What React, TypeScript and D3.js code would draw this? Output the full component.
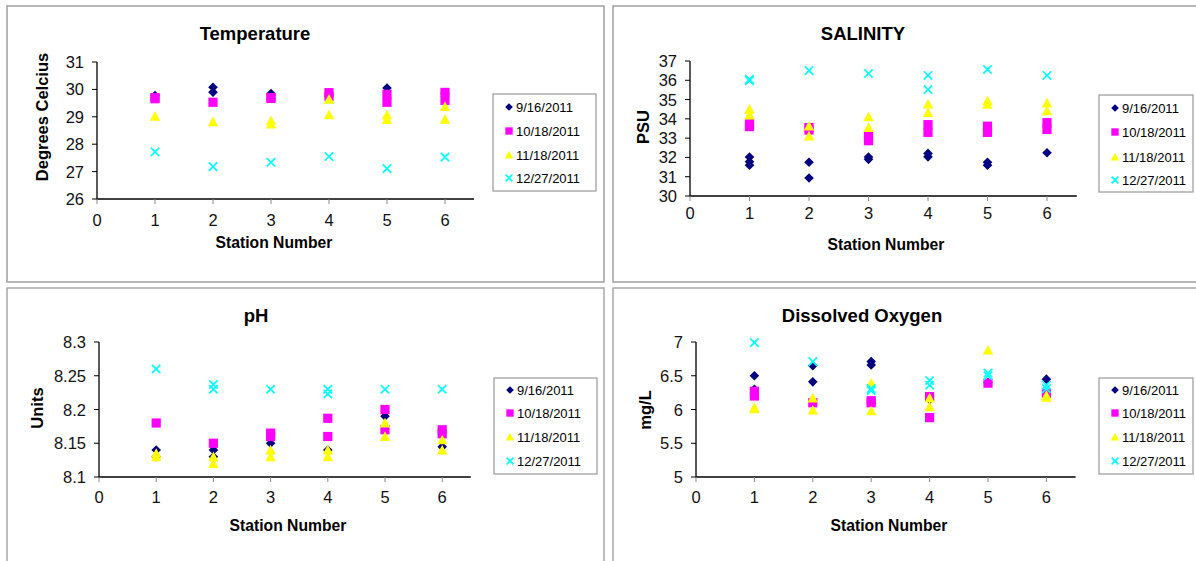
import React from "react";
import * as d3 from "d3";

const seriesNames = ["9/16/2011", "10/18/2011", "11/18/2011", "12/27/2011"];
const seriesColors = ["#000080", "#FF00FF", "#FFFF00", "#00FFFF"];
const xTicks = [0, 1, 2, 3, 4, 5, 6];

// Temperature
const tempSep = [[1, 29.78], [2, 30.08], [2, 29.9], [3, 29.85], [4, 29.8], [5, 30.05], [6, 29.85]];
const tempOct = [[1, 29.66], [1, 29.7], [2, 29.53], [3, 29.7], [3, 29.67], [4, 29.88], [4, 29.75], [5, 29.82], [5, 29.53], [6, 29.89], [6, 29.6]];
const tempNov = [[1, 29.02], [2, 28.82], [3, 28.86], [3, 28.73], [4, 29.64], [4, 29.07], [5, 29.07], [5, 28.9], [6, 29.37], [6, 28.91]];
const tempDec = [[1, 27.72], [2, 27.18], [3, 27.34], [4, 27.55], [5, 27.11], [6, 27.53]];
const tempTicks = [26, 27, 28, 29, 30, 31];

// Salinity
const salSep = [[1, 32.02], [1, 31.78], [1, 31.6], [2, 31.75], [2, 30.93], [3, 32.02], [3, 31.9], [4, 32.21], [4, 32.03], [5, 31.75], [5, 31.6], [6, 32.24]];
const salOct = [[1, 33.75], [1, 33.6], [2, 33.55], [2, 33.42], [3, 33.18], [3, 32.87], [4, 33.7], [4, 33.3], [5, 33.62], [5, 33.3], [6, 33.8], [6, 33.45]];
const salNov = [[1, 34.5], [1, 34.2], [2, 33.63], [2, 33.11], [3, 34.1], [3, 33.55], [4, 34.77], [4, 34.32], [5, 34.93], [5, 34.75], [6, 34.82], [6, 34.41]];
const salDec = [[1, 36.05], [1, 35.98], [2, 36.5], [3, 36.35], [4, 36.25], [4, 35.52], [5, 36.56], [6, 36.25]];
const salTicks = [30, 31, 32, 33, 34, 35, 36, 37];

// pH
const phSep = [[1, 8.14], [1, 8.13], [2, 8.14], [2, 8.13], [3, 8.15], [4, 8.14], [5, 8.19], [6, 8.145]];
const phOct = [[1, 8.18], [2, 8.15], [3, 8.165], [3, 8.16], [4, 8.187], [4, 8.16], [5, 8.2], [5, 8.17], [6, 8.17], [6, 8.164]];
const phNov = [[1, 8.135], [1, 8.13], [2, 8.13], [2, 8.12], [3, 8.14], [3, 8.13], [4, 8.14], [4, 8.13], [5, 8.18], [5, 8.16], [6, 8.155], [6, 8.14]];
const phDec = [[1, 8.26], [2, 8.237], [2, 8.23], [3, 8.23], [4, 8.23], [4, 8.223], [5, 8.23], [6, 8.23]];
const phTicks = [8.1, 8.15, 8.2, 8.25, 8.3];

// Dissolved oxygen
const doSep = [[1, 6.5], [1, 6.3], [2, 6.65], [2, 6.41], [3, 6.71], [3, 6.66], [4, 6.15], [5, 6.4], [6, 6.45]];
const doOct = [[1, 6.27], [1, 6.2], [2, 6.1], [3, 6.13], [3, 6.1], [4, 6.19], [4, 5.88], [5, 6.39], [6, 6.24]];
const doNov = [[1, 6.03], [1, 6.01], [2, 6.17], [2, 5.99], [3, 6.39], [3, 5.98], [4, 6.17], [4, 6.04], [5, 6.88], [6, 6.21], [6, 6.18]];
const doDec = [[1, 6.99], [2, 6.71], [3, 6.31], [3, 6.28], [4, 6.43], [4, 6.36], [5, 6.54], [5, 6.5], [6, 6.36], [6, 6.31]];
const doTicks = [5, 5.5, 6, 6.5, 7];

const FONT = "'Liberation Sans', Arial, sans-serif";

function Marker({ kind, x, y, s = 1 }: { kind: number; x: number; y: number; s?: number }) {
  const c = seriesColors[kind];
  if (kind === 0) {
    const r = 4.8 * s;
    return <path d={`M${x},${y - r}L${x + r},${y}L${x},${y + r}L${x - r},${y}Z`} fill={c} />;
  }
  if (kind === 1) {
    const h = 4.6 * s;
    return <rect x={x - h} y={y - h} width={2 * h} height={2 * h} fill={c} />;
  }
  if (kind === 2) {
    const h = 5.2 * s;
    return <path d={`M${x},${y - h}L${x + h},${y + h * 0.85}L${x - h},${y + h * 0.85}Z`} fill={c} />;
  }
  const h = 4.2 * s;
  return (
    <path d={`M${x - h},${y - h}L${x + h},${y + h}M${x - h},${y + h}L${x + h},${y - h}`} stroke={c} strokeWidth={1.7} fill="none" />
  );
}

type PanelProps = {
  title: string;
  yTitle: string;
  series: number[][][];
  ticks: number[];
  x0: number; xUnit: number; yTop: number; yBot: number;
  titleX: number; titleY: number;
  yTitleX: number; yTitleY: number;
  xTitleX: number; xTitleY: number;
  xLabelDy: number;
  legend: { x: number; y: number; w: number; h: number; rows: number[] };
};

function Panel(p: PanelProps) {
  const x = d3.scaleLinear().domain([0, 6.5]).range([p.x0, p.x0 + 6.5 * p.xUnit]);
  const y = d3.scaleLinear().domain([p.ticks[0], p.ticks[p.ticks.length - 1]]).range([p.yBot, p.yTop]);
  return (
    <g fontFamily={FONT}>
      <text x={p.titleX} y={p.titleY} textAnchor="middle" dominantBaseline="central" fontWeight="bold" fontSize={18.5}>{p.title}</text>
      <line x1={x(0)} x2={x(6.5)} y1={p.yBot} y2={p.yBot} stroke="#000" strokeWidth={1.3} />
      <line x1={p.x0} x2={p.x0} y1={p.yTop} y2={p.yBot} stroke="#000" strokeWidth={1.3} />
      {xTicks.map((t) => (
        <g key={"x" + t}>
          <line x1={x(t)} x2={x(t)} y1={p.yBot} y2={p.yBot + 5} stroke="#888" strokeWidth={1} />
          <text x={x(t)} y={p.yBot + p.xLabelDy} textAnchor="middle" dominantBaseline="central" fontSize={16.5} fill="#111">{t}</text>
        </g>
      ))}
      {p.ticks.map((t) => (
        <g key={"y" + t}>
          <line x1={p.x0 - 5} x2={p.x0} y1={y(t)} y2={y(t)} stroke="#000" strokeWidth={1} />
          <text x={p.x0 - 13} y={y(t)} textAnchor="end" dominantBaseline="central" fontSize={16.5} fill="#111">{String(t)}</text>
        </g>
      ))}
      <text x={p.xTitleX} y={p.xTitleY} textAnchor="middle" dominantBaseline="central" fontWeight="bold" fontSize={15.7}>Station Number</text>
      <text transform={`translate(${p.yTitleX},${p.yTitleY}) rotate(-90)`} textAnchor="middle" dominantBaseline="central" fontWeight="bold" fontSize={16.5}>{p.yTitle}</text>
      {p.series.map((ser, si) => (
        <g key={"s" + si}>
          {ser.map((d, i) => (
            <Marker key={i} kind={si} x={x(d[0])} y={y(d[1])} />
          ))}
        </g>
      ))}
      <rect x={p.legend.x} y={p.legend.y} width={p.legend.w} height={p.legend.h} fill="#fff" stroke="#a0a0a0" strokeWidth={1.3} />
      {seriesNames.map((n, i) => (
        <g key={n}>
          <Marker kind={i} x={p.legend.x + 16} y={p.legend.rows[i]} s={0.8} />
          <text x={p.legend.x + 23} y={p.legend.rows[i]} dominantBaseline="central" fontSize={13}>{n}</text>
        </g>
      ))}
    </g>
  );
}

export default function App() {
  return (
    <svg width={1196} height={561} style={{ position: "absolute", left: 0, top: 0, background: "#fff" }}>
      <rect x={0} y={0} width={1196} height={561} fill="#fff" />
      <rect x={7} y={6} width={597} height={276} fill="none" stroke="#a0a0a0" strokeWidth={1.5} />
      <rect x={613} y={6} width={590} height={276} fill="none" stroke="#a0a0a0" strokeWidth={1.5} />
      <rect x={7} y={288} width={597} height={280} fill="none" stroke="#a8a8a8" strokeWidth={1.5} />
      <rect x={613} y={288} width={590} height={280} fill="none" stroke="#a8a8a8" strokeWidth={1.5} />
      <Panel
        title="Temperature" yTitle="Degrees Celcius" series={[tempSep, tempOct, tempNov, tempDec]} ticks={tempTicks}
        x0={97} xUnit={58} yTop={62} yBot={199}
        titleX={255} titleY={33} yTitleX={42} yTitleY={117} xTitleX={274} xTitleY={242} xLabelDy={21}
        legend={{ x: 493, y: 94, w: 103, h: 97, rows: [107, 131, 155, 178] }}
      />
      <Panel
        title="SALINITY" yTitle="PSU" series={[salSep, salOct, salNov, salDec]} ticks={salTicks}
        x0={690} xUnit={59.5} yTop={61} yBot={196}
        titleX={863} titleY={33} yTitleX={643} yTitleY={127} xTitleX={886} xTitleY={244} xLabelDy={17}
        legend={{ x: 1099, y: 95, w: 94, h: 97, rows: [108, 132, 157, 180] }}
      />
      <Panel
        title="pH" yTitle="Units" series={[phSep, phOct, phNov, phDec]} ticks={phTicks}
        x0={99} xUnit={57.2} yTop={342} yBot={477}
        titleX={256} titleY={315} yTitleX={37} yTitleY={408} xTitleX={288} xTitleY={525} xLabelDy={20}
        legend={{ x: 494, y: 378, w: 103, h: 96, rows: [390, 413, 437, 461] }}
      />
      <Panel
        title="Dissolved Oxygen" yTitle="mg/L" series={[doSep, doOct, doNov, doDec]} ticks={doTicks}
        x0={696} xUnit={58.4} yTop={342} yBot={477}
        titleX={862} titleY={315} yTitleX={645} yTitleY={410} xTitleX={889} xTitleY={525} xLabelDy={20}
        legend={{ x: 1099, y: 378, w: 94, h: 96, rows: [390, 413, 437, 461] }}
      />
    </svg>
  );
}
